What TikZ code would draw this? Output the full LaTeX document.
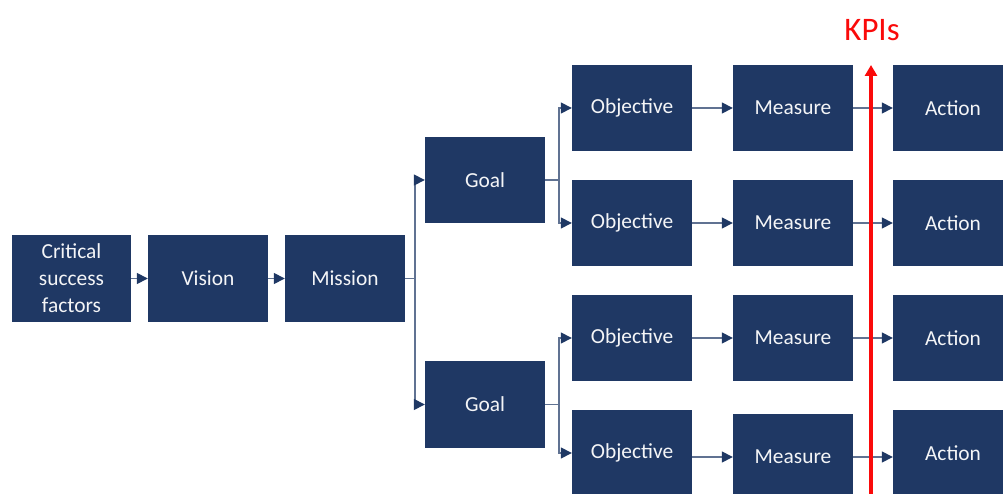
\documentclass[tikz,border=0pt]{standalone}
\usepackage{fontspec}
\setmainfont{Carlito}
\usetikzlibrary{arrows.meta}
\definecolor{navy}{RGB}{31,56,100}
\definecolor{linkline}{RGB}{96,114,146}
\definecolor{kpired}{RGB}{250,10,10}
\begin{document}
\begin{tikzpicture}[x=1bp,y=-1bp,
  box/.style={fill=navy, text=white!95!navy, minimum width=120bp, minimum height=86bp,
              inner sep=0pt, align=center, font=\fontsize{21.5}{27}\selectfont},
  link/.style={draw=linkline, line width=1.5bp, -{Triangle[length=11bp,width=11bp,color=navy]}},
  plain/.style={draw=linkline, line width=1.5bp},
  kpiline/.style={draw=kpired, line width=3.5bp, -{Triangle[length=11bp,width=12bp]}}
]
\useasboundingbox (0,0) rectangle (1003,494);
\clip (0,0) rectangle (1003,494);

% strategy chain
\node[box, minimum width=119bp, minimum height=87bp] (csf) at (71.5,278.5) {Critical\\success\\factors};
\node[box, minimum height=87bp] (vision) at (208,278.5) {Vision};
\node[box, minimum height=87bp] (mission) at (345,278.5) {Mission};

% goals
\node[box] (goal1) at (485,180) {Goal};
\node[box, minimum height=87bp] (goal2) at (485,404.5) {Goal};

% objectives
\node[box] (o1) at (632,108) {Objective};
\node[box] (o2) at (632,223) {Objective};
\node[box] (o3) at (632,338) {Objective};
\node[box] (o4) at (632,453) {Objective};

% measures
\node[box] (m1) at (793,108) {Measure};
\node[box] (m2) at (793,223) {Measure};
\node[box] (m3) at (793,338) {Measure};
\node[box] (m4) at (793,457) {Measure};

% actions
\node[box] (a1) at (953,108) {Action};
\node[box] (a2) at (953,223) {Action};
\node[box] (a3) at (953,338) {Action};
\node[box] (a4) at (953,453) {Action};

% chain connectors
\draw[link] (csf) -- (vision);
\draw[link] (vision) -- (mission);

% mission splits into goals
\coordinate (mj) at (415,278.5);
\draw[plain] (mission.east) -- (mj);
\draw[link] (mj) |- (goal1);
\draw[link] (mj) |- (goal2);

% goals split into objectives
\coordinate (g1j) at (559,180);
\coordinate (g2j) at (559,404.5);
\draw[plain] (goal1.east) -- (g1j);
\draw[link] (g1j) |- (o1);
\draw[link] (g1j) |- (o2);
\draw[plain] (goal2.east) -- (g2j);
\draw[link] (g2j) |- (o3);
\draw[link] (g2j) |- (o4);

% objective -> measure -> action
\foreach \r in {1,2,3} {
  \draw[link] (o\r) -- (m\r);
  \draw[link] (m\r) -- (a\r);
}
\draw[link] (o4.east |- m4) -- (m4.west);
\draw[link] (m4.east) -- (a4.west |- m4);

% KPI marker
\node[text=kpired, font=\fontsize{33}{38}\selectfont] (kpi) at (872,30) {KPIs};
\coordinate (kbot) at (871,500);
\coordinate (ktop) at (871,65);
\draw[kpiline] (kbot) -- (ktop);
\end{tikzpicture}
\end{document}
